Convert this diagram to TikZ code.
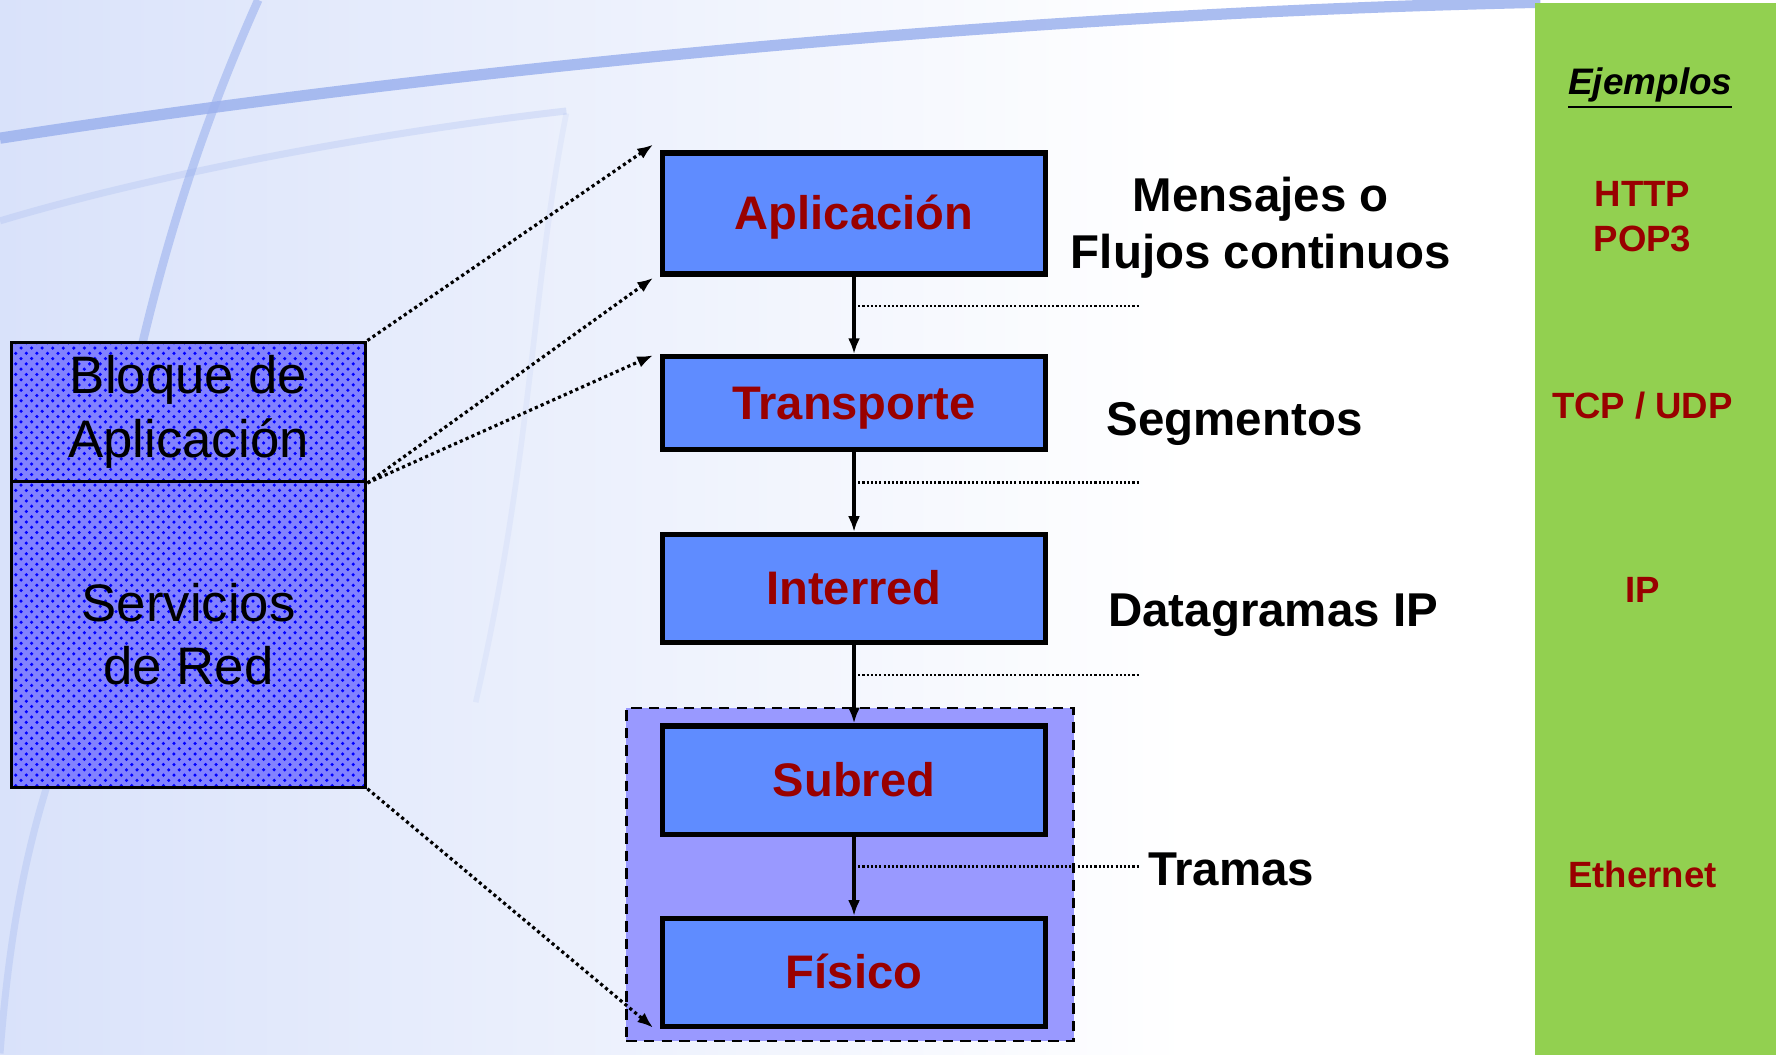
\documentclass[tikz,border=0pt]{standalone}
\usepackage{fontspec}
\setmainfont{Liberation Sans}
\usetikzlibrary{arrows.meta,patterns}
\definecolor{capacol}{HTML}{5F8CFF}
\definecolor{rojo}{HTML}{990000}
\definecolor{lila}{HTML}{9999FF}
\definecolor{verde}{HTML}{92D050}
\definecolor{fondo}{HTML}{D9E2FA}
\definecolor{trazo}{HTML}{9CB2EE}
\definecolor{malla}{HTML}{8282FF}
\tikzset{>={Latex[length=4.5pt,width=3.4pt]},
  capa/.style={draw=black, line width=1.5pt, fill=capacol, minimum width=38.29mm,
    inner sep=0pt, text height=0.95em, text depth=0.05em, text=rojo,
    font=\fontsize{13.4}{16}\selectfont\bfseries},
  bloque/.style={draw=black, line width=0.9pt, minimum width=35.45mm,
    preaction={fill=malla}, preaction={pattern=crosshatch dots, pattern color=blue},
    inner sep=0pt, align=center, font=\fontsize{15}{18}\selectfont},
  etiqueta/.style={align=center, font=\fontsize{13.5}{16.2}\selectfont\bfseries},
  ejemplo/.style={align=center, text=rojo, font=\fontsize{10.4}{12.9}\selectfont\bfseries},
  enlace/.style={->, line width=0.9pt, dash pattern=on 0.9pt off 0.9pt},
  guia/.style={line width=0.6pt, dash pattern=on 0.6pt off 0.6pt},
  baja/.style={->, line width=1.1pt}}

\begin{document}
\begin{tikzpicture}[x=0.11327mm, y=-0.11327mm]
\useasboundingbox (0,0) rectangle (1568,931);
% fondo
\shade[left color=fondo, right color=white] (0,0) rectangle (1050,931);
\fill[white] (1050,0) rectangle (1568,931);
\draw[trazo, line width=3.2pt, opacity=0.85] (0,122) .. controls (400,60) and (900,12) .. (1360,2);
\draw[trazo, line width=2.4pt, opacity=0.6] (228,0) .. controls (170,130) and (120,280) .. (85,520);
\draw[trazo, line width=2pt, opacity=0.25] (0,195) .. controls (150,150) and (350,115) .. (500,98);
\draw[trazo, line width=1.6pt, opacity=0.12] (500,100) .. controls (470,250) and (470,400) .. (420,620);
\draw[trazo, line width=2pt, opacity=0.3] (0,930) .. controls (10,800) and (30,720) .. (60,640);
\fill[verde] (1355,3) rectangle (1568,931);

% bloque izquierdo
\node[bloque, minimum height=13.93mm] (bloque) at (166.5,363.5) {Bloque de\\Aplicación};
\node[bloque, minimum height=30.58mm] (servicios) at (166.5,560) {Servicios\\de Red};

% subred + fisico
\node[draw=black, line width=0.8pt, dash pattern=on 3pt off 2pt, fill=lila,
  minimum width=44.74mm, minimum height=33.3mm] (medio) at (750.5,772) {};

% capas
\node[capa, minimum height=12.12mm] (aplic) at (754,188.5) {Aplicación};
\node[capa, minimum height=9.29mm] (transp) at (754,356) {Transporte};
\node[capa, minimum height=10.76mm] (inter) at (754,519.5) {Interred};
\node[capa, minimum height=10.87mm] (subred) at (754,689) {Subred};
\node[capa, minimum height=10.76mm] (fisico) at (754,858.5) {Físico};

\draw[baja] (aplic.south) -- (transp.north);
\draw[baja] (transp.south) -- (inter.north);
\draw[baja] (inter.south) -- (subred.north);
\draw[baja] (subred.south) -- (fisico.north);

\foreach \y [count=\i] in {270,426,596,765} {
  \coordinate (g\i) at (754,\y);
  \coordinate (h\i) at (1006,\y);
  \draw[guia] (g\i) -- (h\i);
}

\draw[enlace] (bloque.north east) -- ([shift={(-6,-5)}]aplic.north west);
\draw[enlace] (bloque.south east) -- ([shift={(-6,1)}]aplic.south west);
\draw[enlace] (bloque.south east) -- ([shift={(-6,1)}]transp.north west);
\draw[enlace] (servicios.south east) -- ([shift={(-6,-1)}]fisico.south west);

% unidades de datos
\node[etiqueta] (mensajes) at (1113,201) {Mensajes o\\Flujos continuos};
\node[etiqueta] (segm) at (1090,374) {Segmentos};
\node[etiqueta] (datag) at (1124,543) {Datagramas IP};
\node[etiqueta] (tramas) at (1087,768) {Tramas};

% ejemplos
\node[font=\fontsize{10.5}{12.9}\selectfont\bfseries] (ejem) at (1457,78) {\underline{\textit{Ejemplos}}};
\node[ejemplo] (http) at (1450,191) {HTTP\\POP3};
\node[ejemplo] (tcp) at (1450,358) {TCP / UDP};
\node[ejemplo] (ip) at (1450,521) {IP};
\node[ejemplo] (eth) at (1450,772) {Ethernet};
\end{tikzpicture}
\end{document}
